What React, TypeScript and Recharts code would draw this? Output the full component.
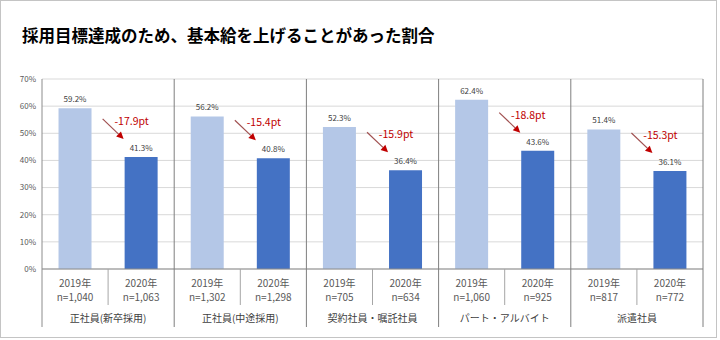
import React from "react";
import { BarChart, Bar, XAxis, YAxis, CartesianGrid, Cell, LabelList } from "recharts";

const groups = [
  "正社員(新卒採用)",
  "正社員(中途採用)",
  "契約社員・嘱託社員",
  "パート・アルバイト",
  "派遣社員",
];
const years = ["2019年", "2020年"];
const rate2019 = [59.2, 56.2, 52.3, 62.4, 51.4];
const rate2020 = [41.3, 40.8, 36.4, 43.6, 36.1];
const n2019 = ["1,040", "1,302", "705", "1,060", "817"];
const n2020 = ["1,063", "1,298", "634", "925", "772"];
const yTicks = [0, 10, 20, 30, 40, 50, 60, 70];

const COLORS = ["#B4C7E7", "#4472C4"];
const FONT = "'Noto Sans CJK JP', 'Noto Sans', sans-serif";
const PLOT_TOP = 79;
const PLOT_BOTTOM = 269;
const PLOT_H = PLOT_BOTTOM - PLOT_TOP;

const data = groups.flatMap((g, i) => [
  { key: `${i}-0`, group: g, year: years[0], n: n2019[i], value: rate2019[i], prev: null as number | null },
  { key: `${i}-1`, group: g, year: years[1], n: n2020[i], value: rate2020[i], prev: rate2019[i] },
]);

const XTick = (props: any) => {
  const { x, y, payload, index } = props;
  const d = data[index];
  if (!d) return null;
  const half = payload && payload.offset ? payload.offset : 33;
  const isLast = index % 2 === 1;
  return (
    <g fontFamily={FONT}>
      <text x={x} y={y + 18} textAnchor="middle" fontSize={10} fill="#595959">
        {d.year}
      </text>
      <text x={x} y={y + 32} textAnchor="middle" fontSize={10} fill="#595959">
        n={d.n}
      </text>
      {index === 0 && (
        <line x1={x - half} x2={x - half} y1={y} y2={y + 58} stroke="#8c8c8c" />
      )}
      {isLast ? (
        <>
          <line x1={x + half} x2={x + half} y1={y - PLOT_H} y2={y + 58} stroke="#7f7f7f" />
          <text x={x - half} y={y + 53} textAnchor="middle" fontSize={10} fill="#404040">
            {d.group}
          </text>
        </>
      ) : (
        <line x1={x + half} x2={x + half} y1={y} y2={y + 36} stroke="#a6a6a6" />
      )}
    </g>
  );
};

const BarLabel = (props: any) => {
  const { x, y, width, index } = props;
  const d = data[index];
  if (!d) return null;
  const cx = x + width / 2;
  let extra = null;
  if (d.prev !== null) {
    const x1 = x - 22;
    const y1 = y - 38;
    const x2 = x - 1;
    const y2 = y - 18;
    const len = Math.hypot(x2 - x1, y2 - y1);
    const ux = (x2 - x1) / len;
    const uy = (y2 - y1) / len;
    const hl = 7;
    const hw = 3.5;
    const bx = x2 - ux * hl;
    const by = y2 - uy * hl;
    const diff = (d.value - d.prev).toFixed(1);
    extra = (
      <>
        <line x1={x1} y1={y1} x2={bx} y2={by} stroke="#A05050" strokeWidth={1.2} />
        <polygon
          points={`${x2},${y2} ${bx - uy * hw},${by + ux * hw} ${bx + uy * hw},${by - ux * hw}`}
          fill="#C00000"
        />
        <text x={x + 7} y={y - 32} textAnchor="middle" fontSize={10.5} fill="#C00000">
          {diff}pt
        </text>
      </>
    );
  }
  return (
    <g fontFamily={FONT}>
      <text x={cx} y={y - 6} textAnchor="middle" fontSize={8} fill="#404040">
        {d.value.toFixed(1)}%
      </text>
      {extra}
    </g>
  );
};

export default function App() {
  return (
    <div
      style={{
        position: "fixed",
        left: 0,
        top: 0,
        width: 720,
        height: 340,
        background: "#fff",
        fontFamily: FONT,
      }}
    >
      <div
        style={{
          position: "absolute",
          left: 0,
          top: 0,
          width: 717,
          height: 338,
          border: "1px solid #c4c4c4",
          boxSizing: "border-box",
        }}
      />
      <div
        style={{
          position: "absolute",
          left: 22,
          top: 25,
          fontSize: 16.5,
          lineHeight: "20px",
          fontWeight: 700,
          color: "#000",
          whiteSpace: "nowrap",
        }}
      >
        採用目標達成のため、基本給を上げることがあった割合
      </div>
      <div style={{ position: "absolute", left: 0, top: 0 }}>
        <BarChart
          width={720}
          height={340}
          data={data}
          margin={{ top: PLOT_TOP, right: 17, bottom: 0, left: 0 }}
          barCategoryGap="25%"
        >
          <CartesianGrid vertical={false} stroke="#d9d9d9" />
          <XAxis
            dataKey="key"
            height={340 - PLOT_BOTTOM}
            tickLine={false}
            tickSize={0}
            tickMargin={0}
            interval={0}
            axisLine={{ stroke: "#8c8c8c" }}
            tick={<XTick />}
          />
          <YAxis
            width={42}
            domain={[0, 70]}
            ticks={yTicks}
            tickFormatter={(v: number) => `${v}%`}
            tickLine={false}
            tickSize={0}
            tickMargin={6}
            axisLine={{ stroke: "#8c8c8c" }}
            tick={{ fontSize: 8, fill: "#595959", fontFamily: FONT }}
          />
          <Bar dataKey="value" isAnimationActive={false}>
            {data.map((d, i) => (
              <Cell key={d.key} fill={COLORS[i % 2]} />
            ))}
            <LabelList dataKey="value" content={<BarLabel />} />
          </Bar>
        </BarChart>
      </div>
    </div>
  );
}
